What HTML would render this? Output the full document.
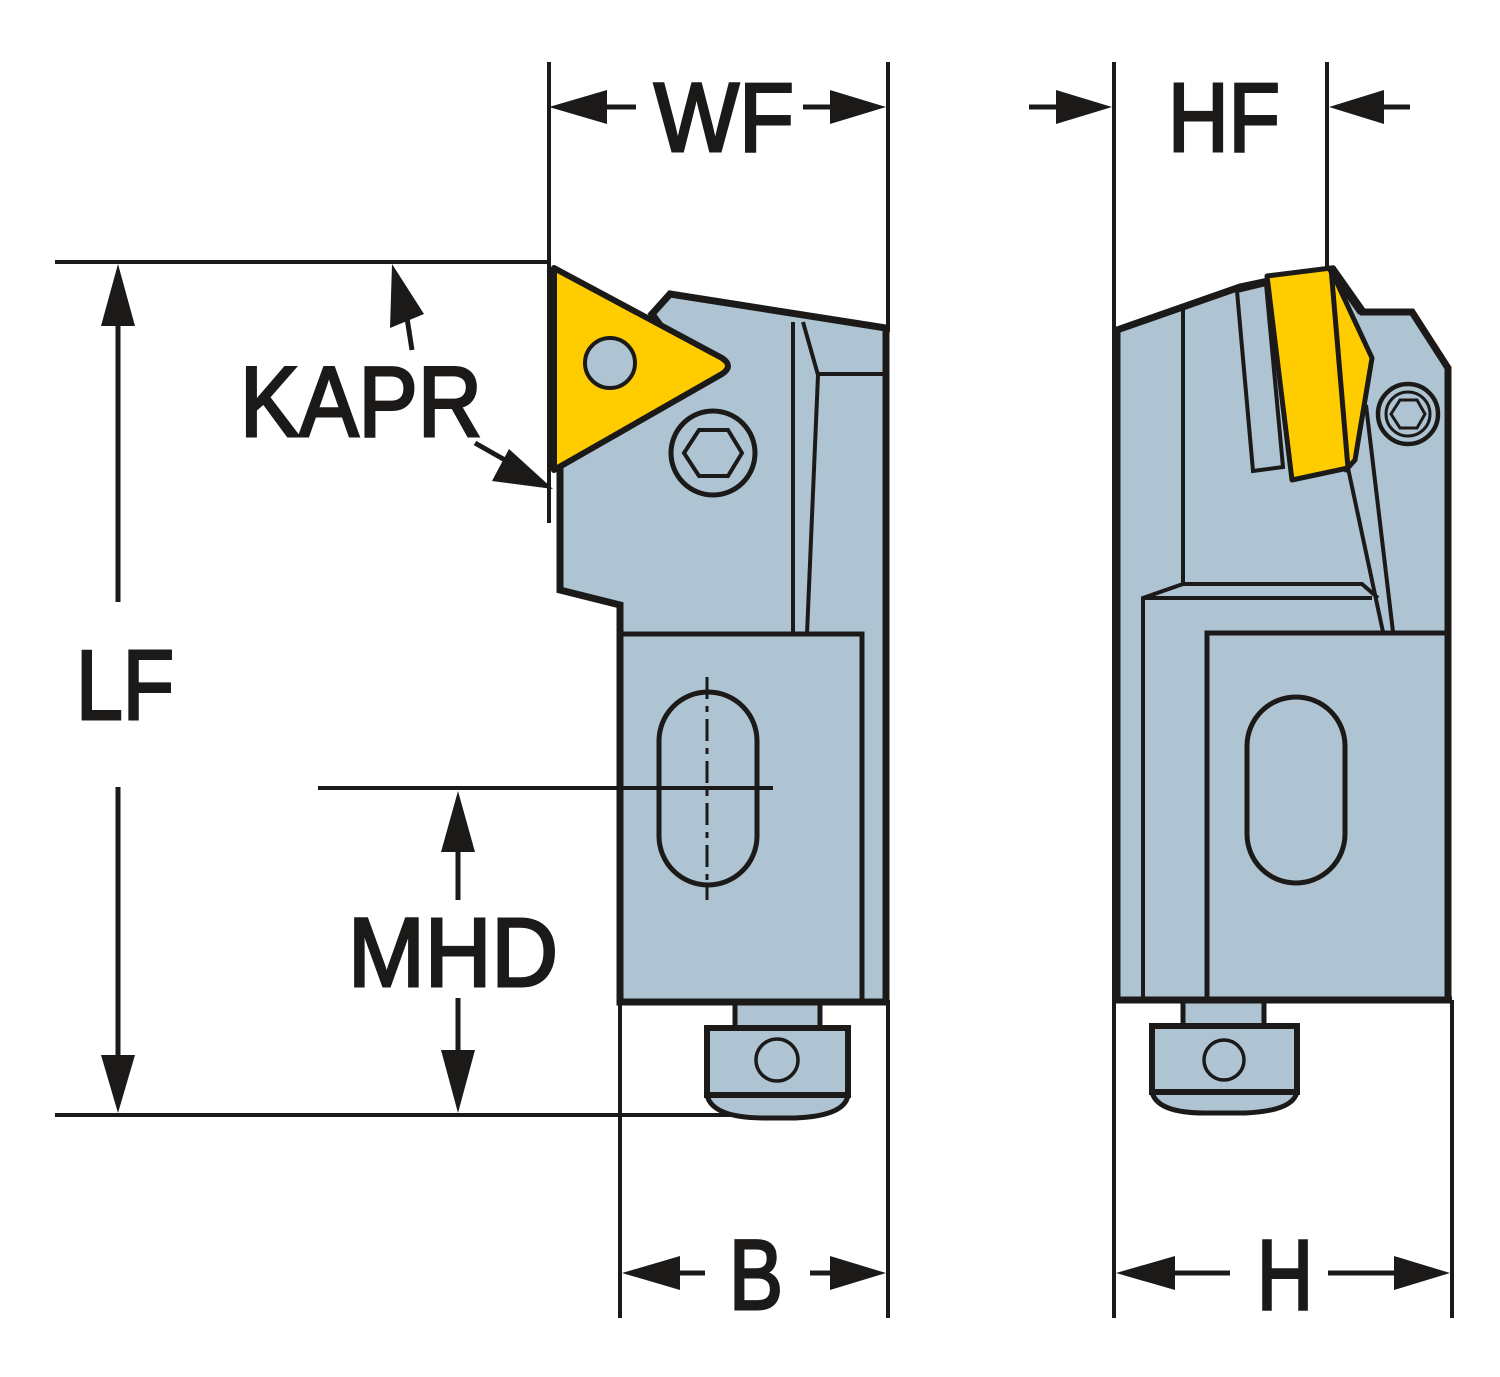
<!DOCTYPE html>
<html>
<head>
<meta charset="utf-8">
<style>
html,body{margin:0;padding:0;background:#fff;}
svg{display:block;}
text{font-family:"Liberation Sans",Arial,sans-serif;font-weight:normal;fill:#1c1a19;stroke:#1c1a19;stroke-width:3;stroke-linejoin:miter;}
</style>
</head>
<body>
<svg width="1500" height="1377" viewBox="0 0 1500 1377" xmlns="http://www.w3.org/2000/svg">
<rect width="1500" height="1377" fill="#fff"/>
<g stroke="#1c1a19" fill="none" stroke-linecap="butt">

<!-- ===== LEFT VIEW ===== -->
<line x1="549" y1="62" x2="549" y2="523" stroke-width="4"/>
<line x1="888" y1="62" x2="888" y2="332" stroke-width="4"/>
<line x1="55" y1="262" x2="551" y2="262" stroke-width="4"/>
<line x1="55" y1="1115" x2="745" y2="1115" stroke-width="4"/>
<line x1="318" y1="788" x2="773" y2="788" stroke-width="4"/>
<line x1="620" y1="1000" x2="620" y2="1318" stroke-width="4"/>
<line x1="888" y1="1000" x2="888" y2="1318" stroke-width="4"/>

<polygon points="670,294 886,328 886,1002 620,1002 620,605 560,590 560,460 700,380 652,314" fill="#aec4d3" stroke-width="7" stroke-linejoin="miter"/>
<line x1="793" y1="322" x2="793" y2="634" stroke-width="4"/>
<polyline points="803,322 818,375 807,634" stroke-width="4"/>
<line x1="818" y1="374" x2="884" y2="374" stroke-width="4"/>
<polyline points="620,634 862,634 862,1000" stroke-width="5"/>
<circle cx="713" cy="453" r="42" fill="#aec4d3" stroke-width="5"/>
<polygon points="684,453 699,430 728,430 742,453 728,476 699,476" stroke-width="4"/>
<path d="M554,268 L722,358 Q734,366 722,374 L554,470 Z" fill="#ffcc00" stroke-width="6" stroke-linejoin="round"/>
<circle cx="610" cy="363" r="25" fill="#aec4d3" stroke-width="4"/>
<rect x="659" y="692" width="98" height="193" rx="49" ry="49" stroke-width="5"/>
<line x1="707" y1="677" x2="707" y2="900" stroke-width="3" stroke-dasharray="22,7,6,7"/>
<line x1="620" y1="788" x2="773" y2="788" stroke-width="4"/>
<rect x="735" y="1002" width="85" height="26" fill="#aec4d3" stroke-width="5"/>
<path d="M707,1095 Q712,1118 765,1118 L795,1118 Q845,1116 848,1095 Z" fill="#aec4d3" stroke-width="5"/>
<rect x="707" y="1028" width="141" height="67" fill="#aec4d3" stroke-width="6"/>
<circle cx="777" cy="1060" r="21" stroke-width="3.5"/>
<line x1="620" y1="1002" x2="888" y2="1002" stroke-width="7"/>

<!-- ===== RIGHT VIEW ===== -->
<line x1="1114" y1="62" x2="1114" y2="1318" stroke-width="4"/>
<line x1="1327" y1="62" x2="1327" y2="270" stroke-width="4"/>
<line x1="1452" y1="1000" x2="1452" y2="1318" stroke-width="4"/>

<polygon points="1117,330 1240,287 1268,281 1332,269 1362,312 1412,312 1448,368 1448,1000 1117,1000" fill="#aec4d3" stroke-width="7" stroke-linejoin="miter"/>
<line x1="1183" y1="306" x2="1183" y2="584" stroke-width="4"/>
<polygon points="1237,291 1266,284 1283,467 1253,471" fill="#aec4d3" stroke-width="4"/>
<polyline points="1143,1000 1143,598 1183,584 1362,584 1378,598" stroke-width="4"/>
<line x1="1143" y1="598" x2="1372" y2="598" stroke-width="4"/>
<line x1="1348" y1="468" x2="1383" y2="632" stroke-width="4"/>
<line x1="1366" y1="405" x2="1393" y2="632" stroke-width="4"/>
<polyline points="1207,1000 1207,633 1448,633" stroke-width="5"/>
<circle cx="1408" cy="414" r="30" stroke-width="4.5"/>
<circle cx="1408" cy="414" r="22" stroke-width="3"/>
<polygon points="1391,414 1400,400 1417,400 1425,414 1417,428 1400,428" stroke-width="3"/>
<polygon points="1331,270 1372,358 1355,460 1346,470" fill="#ffcc00" stroke-width="5" stroke-linejoin="round"/>
<polygon points="1267,276 1331,268 1348,468 1292,480" fill="#ffcc00" stroke-width="5" stroke-linejoin="round"/>
<line x1="1331" y1="268" x2="1362" y2="312" stroke-width="9"/>
<rect x="1247" y="697" width="98" height="186" rx="49" ry="49" stroke-width="5"/>
<rect x="1183" y="1000" width="81" height="26" fill="#aec4d3" stroke-width="5"/>
<path d="M1152,1092 Q1157,1113 1205,1113 L1245,1113 Q1293,1111 1297,1092 Z" fill="#aec4d3" stroke-width="5"/>
<rect x="1152" y="1026" width="145" height="66" fill="#aec4d3" stroke-width="6"/>
<circle cx="1224" cy="1060" r="20" stroke-width="3.5"/>
<line x1="1114" y1="1000" x2="1452" y2="1000" stroke-width="7"/>

<!-- ===== DIMENSION ARROWS ===== -->
<g stroke-width="5">
<line x1="118" y1="320" x2="118" y2="602"/>
<line x1="118" y1="787" x2="118" y2="1060"/>
<line x1="458" y1="848" x2="458" y2="900"/>
<line x1="458" y1="998" x2="458" y2="1055"/>
<line x1="600" y1="107" x2="636" y2="107"/>
<line x1="803" y1="107" x2="838" y2="107"/>
<line x1="1029" y1="107" x2="1062" y2="107"/>
<line x1="1378" y1="107" x2="1410" y2="107"/>
<line x1="675" y1="1273" x2="705" y2="1273"/>
<line x1="810" y1="1273" x2="836" y2="1273"/>
<line x1="1170" y1="1273" x2="1230" y2="1273"/>
<line x1="1328" y1="1273" x2="1400" y2="1273"/>
<line x1="407" y1="318" x2="412" y2="350"/>
<line x1="475" y1="443" x2="505" y2="460"/>
</g>
</g>

<g fill="#1c1a19" stroke="none">
<polygon points="118,264 101,326 135,326"/>
<polygon points="118,1113 101,1055 135,1055"/>
<polygon points="458,791 441,852 475,852"/>
<polygon points="458,1113 441,1050 475,1050"/>
<polygon points="549,107 607,90 607,124"/>
<polygon points="886,107 830,90 830,124"/>
<polygon points="1112,107 1056,90 1056,124"/>
<polygon points="1329,107 1384,90 1384,124"/>
<polygon points="622,1273 680,1256 680,1290"/>
<polygon points="886,1273 830,1256 830,1290"/>
<polygon points="1116,1273 1175,1256 1175,1290"/>
<polygon points="1450,1273 1394,1256 1394,1290"/>
<polygon points="392,264 390,328 424,314"/>
<polygon points="553,489 492,481 509,449"/>
</g>

<!-- ===== LABELS ===== -->
<text x="654" y="151" font-size="97" textLength="140" lengthAdjust="spacingAndGlyphs">WF</text>
<text x="1168" y="151" font-size="97" textLength="112" lengthAdjust="spacingAndGlyphs">HF</text>
<text x="240" y="436" font-size="99" textLength="242" lengthAdjust="spacingAndGlyphs">KAPR</text>
<text x="76" y="719" font-size="98" textLength="98" lengthAdjust="spacingAndGlyphs">LF</text>
<text x="348" y="986" font-size="97" textLength="210" lengthAdjust="spacingAndGlyphs">MHD</text>
<text x="729" y="1309" font-size="99" textLength="54" lengthAdjust="spacingAndGlyphs">B</text>
<text x="1257" y="1309" font-size="99" textLength="56" lengthAdjust="spacingAndGlyphs">H</text>
</svg>
</body>
</html>
